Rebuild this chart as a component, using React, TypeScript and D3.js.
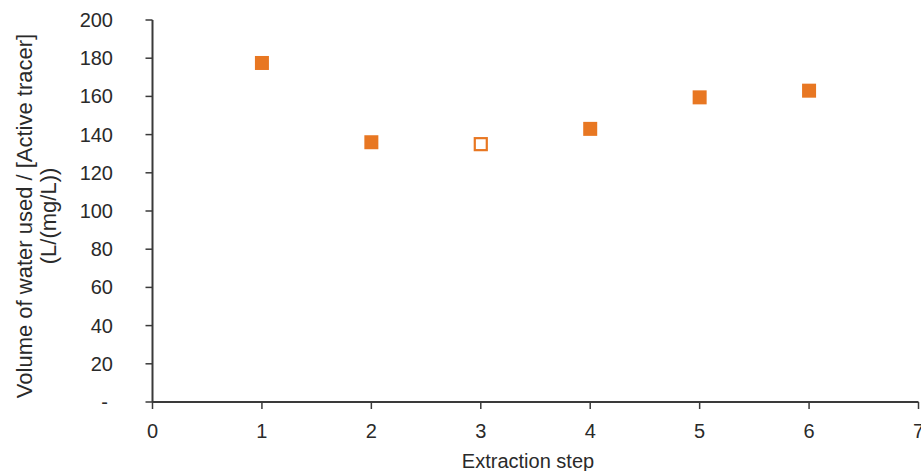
import React from "react";
import * as d3 from "d3";

const steps = [1, 2, 3, 4, 5, 6];
const values = [177.5, 136, 135, 143, 159.5, 163];
const hollow = [false, false, true, false, false, false];
const yTicks = [0, 20, 40, 60, 80, 100, 120, 140, 160, 180, 200];
const xTicks = [0, 1, 2, 3, 4, 5, 6, 7];

const W = 921, H = 471;
const ORANGE = "#E87722";
const AXIS = "#3a3a3a";
const TEXT = "#2a2a2a";
const FONT = "'Liberation Sans', Arial, sans-serif";

export default function App() {
  const x = d3.scaleLinear().domain([0, 7]).range([152.5, 918.5]);
  const y = d3.scaleLinear().domain([0, 200]).range([402, 20]);
  const s = 14;
  return (
    <svg width={W} height={H} style={{ position: "absolute", left: 0, top: 0, background: "#fff" }} fontFamily={FONT}>
      {/* y axis */}
      <line x1={x(0)} x2={x(0)} y1={y(200)} y2={y(0)} stroke={AXIS} strokeWidth={2} />
      {yTicks.map((t) => (
        <g key={"y" + t}>
          <line x1={x(0) - 7} x2={x(0)} y1={y(t)} y2={y(t)} stroke={AXIS} strokeWidth={1.5} />
          <text x={t === 0 ? 108 : 113} y={y(t)} dy="0.35em" textAnchor="end" fontSize={20} fill={TEXT}>
            {t === 0 ? "-" : t}
          </text>
        </g>
      ))}
      {/* x axis */}
      <line x1={x(0)} x2={x(7)} y1={y(0)} y2={y(0)} stroke={AXIS} strokeWidth={2} />
      {xTicks.map((t) => (
        <g key={"x" + t}>
          <line x1={x(t)} x2={x(t)} y1={y(0)} y2={y(0) + 7} stroke={AXIS} strokeWidth={1.5} />
          <text x={x(t)} y={438} textAnchor="middle" fontSize={20} fill={TEXT}>
            {t}
          </text>
        </g>
      ))}
      <text x={528} y={468} textAnchor="middle" fontSize={20} fill={TEXT}>Extraction step</text>
      <g transform={`translate(32,216) rotate(-90)`}>
        <text x={0} y={0} textAnchor="middle" fontSize={22} fill={TEXT}>Volume of water used / [Active tracer]</text>
        <text x={0} y={24} textAnchor="middle" fontSize={22} fill={TEXT}>(L/(mg/L))</text>
      </g>
      {steps.map((st, i) => (
        hollow[i] ? (
          <rect key={st} x={x(st) - s / 2 + 1} y={y(values[i]) - s / 2 + 1} width={s - 2} height={s - 2}
            fill="#fff" stroke={ORANGE} strokeWidth={2.2} />
        ) : (
          <rect key={st} x={x(st) - s / 2} y={y(values[i]) - s / 2} width={s} height={s} fill={ORANGE} />
        )
      ))}
    </svg>
  );
}
